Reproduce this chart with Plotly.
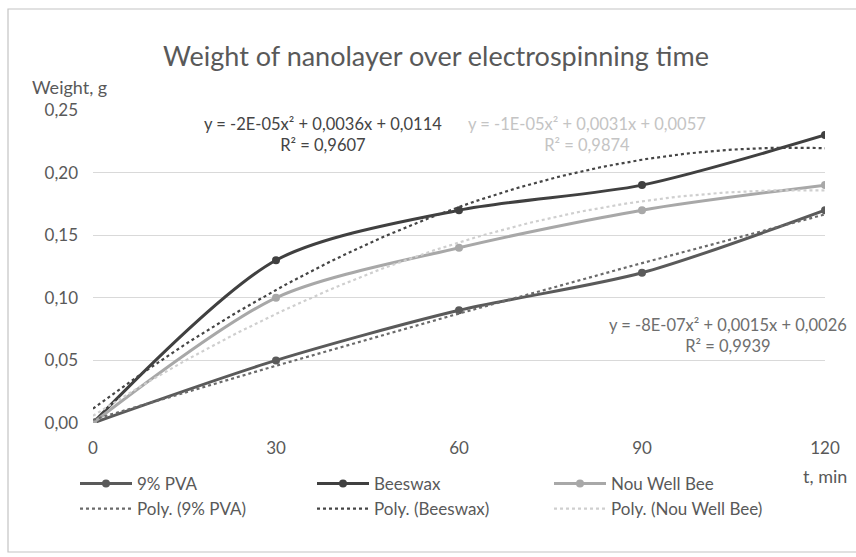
import numpy as np
import plotly.graph_objects as go

# Measured weight of the nanolayer (g) after each electrospinning time (min)
time_min = [0, 30, 60, 90, 120]
pva = [0.00, 0.05, 0.09, 0.12, 0.17]
beeswax = [0.00, 0.13, 0.17, 0.19, 0.23]
nou_well_bee = [0.00, 0.10, 0.14, 0.17, 0.19]

series_names = ["9% PVA", "Beeswax", "Nou Well Bee"]
series_values = [pva, beeswax, nou_well_bee]
line_colors = ["#5a5a5a", "#404040", "#a8a8a8"]
trend_colors = ["#6a6a6a", "#454545", "#cfcfcf"]

# Trendline equations as printed on the chart
eq_text = [
    "y = -8E-07x² + 0,0015x + 0,0026<br>R² = 0,9939",
    "y = -2E-05x² + 0,0036x + 0,0114<br>R² = 0,9607",
    "y = -1E-05x² + 0,0031x + 0,0057<br>R² = 0,9874",
]
eq_colors = ["#6e6e6e", "#444444", "#c4c4c4"]
eq_pos = [(728, 335), (323, 134), (587, 134)]  # pixel centres

y_ticks = [0, 0.05, 0.10, 0.15, 0.20, 0.25]
x_ticks = [0, 30, 60, 90, 120]

W, H = 856, 557
L, R, T, B = 93, 31, 110, 134
PW, PH = W - L - R, H - T - B
FONT = "Lato, 'Open Sans', sans-serif"
GREY = "#595959"


def px(x, y):
    """Pixel position on the page -> paper coordinates."""
    return (x - L) / PW, (H - B - y) / PH


fig = go.Figure()

for name, vals, col in zip(series_names, series_values, line_colors):
    fig.add_trace(go.Scatter(
        x=time_min, y=vals, name=name, mode="lines+markers",
        line=dict(color=col, width=3, shape="spline", smoothing=0.8),
        marker=dict(color=col, size=8, symbol="circle"),
    ))

# Second-order polynomial trendlines fitted to each series
xs = np.linspace(min(time_min), max(time_min), 121)
for name, vals, col in zip(series_names, series_values, trend_colors):
    coef = np.polyfit(time_min, vals, 2)
    fig.add_trace(go.Scatter(
        x=xs, y=np.polyval(coef, xs), name=f"Poly. ({name})", mode="lines",
        line=dict(color=col, width=2.2, dash="dot"),
    ))

annotations = []
for txt, col, (ex, ey) in zip(eq_text, eq_colors, eq_pos):
    ax, ay = px(ex, ey)
    annotations.append(dict(
        text=txt, x=ax, y=ay, xref="paper", yref="paper",
        xanchor="center", yanchor="middle", showarrow=False, align="center",
        font=dict(family=FONT, size=16.5, color=col),
    ))

ax, ay = px(30, 87)
annotations.append(dict(text="Weight, g", x=ax, y=ay, xref="paper", yref="paper",
                        xanchor="left", yanchor="middle", showarrow=False,
                        font=dict(family=FONT, size=18, color=GREY)))
ax, ay = px(849, 476)
annotations.append(dict(text="t, min", x=ax, y=ay, xref="paper", yref="paper",
                        xanchor="right", yanchor="middle", showarrow=False,
                        font=dict(family=FONT, size=18, color=GREY)))

bx0, by0 = px(8, 9)
bx1, by1 = px(860, 552)

fig.update_layout(
    width=W, height=H,
    margin=dict(l=L, r=R, t=T, b=B),
    paper_bgcolor="white", plot_bgcolor="white",
    separators=", ",
    title=dict(text="Weight of nanolayer over electrospinning time",
               x=436 / W, y=1 - 57 / H, xanchor="center", yanchor="middle",
               font=dict(family=FONT, size=27, color=GREY)),
    xaxis=dict(range=[0, 120], tickvals=x_ticks, showgrid=False, zeroline=False,
               showline=False, ticks="", ticklabelstandoff=13,
               tickfont=dict(family=FONT, size=17, color=GREY)),
    yaxis=dict(range=[0, 0.25], tickvals=y_ticks, tickformat=".2f",
               showgrid=True, gridcolor="#d9d9d9", gridwidth=1, zeroline=False,
               showline=False, ticks="", ticklabelstandoff=14,
               tickfont=dict(family=FONT, size=17, color=GREY)),
    legend=dict(orientation="h", x=px(75, 0)[0], y=px(0, 466)[1],
                xanchor="left", yanchor="top", itemwidth=52,
                entrywidth=170, entrywidthmode="pixels", tracegroupgap=0,
                font=dict(family=FONT, size=17, color=GREY),
                bgcolor="rgba(0,0,0,0)"),
    annotations=annotations,
    shapes=[dict(type="rect", xref="paper", yref="paper",
                 x0=bx0, y0=by0, x1=bx1, y1=by1,
                 line=dict(color="#c4c4c4", width=1.2), layer="below")],
)

fig.write_html("out.html")
